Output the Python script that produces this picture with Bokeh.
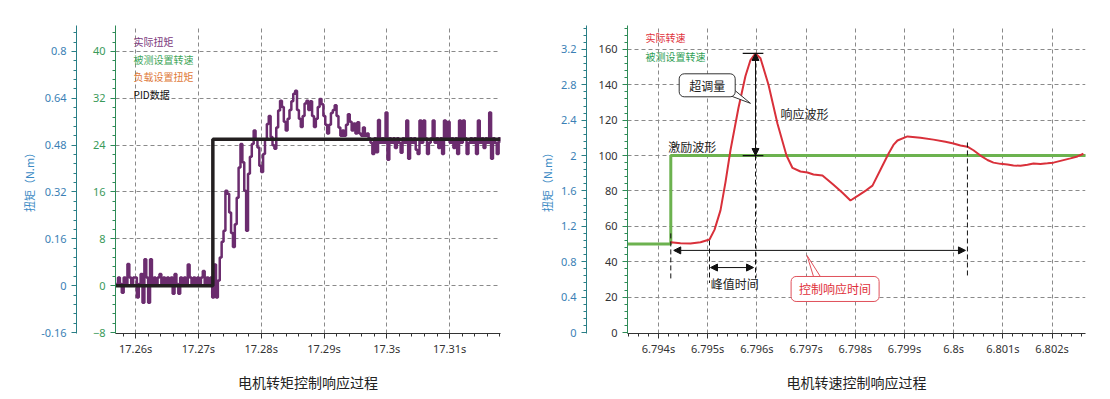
import numpy as np
from bokeh.plotting import figure
from bokeh.models import (Range1d, LinearAxis, SingleIntervalTicker, CustomJSTickFormatter,
                          FixedTicker, Label, Arrow, NormalHead, Title)
from bokeh.layouts import row
from bokeh.embed import file_html
from bokeh.resources import INLINE

# ---------------- data: left chart (torque control) ----------------
T0_LEFT = 17.2569          # first sample time (s)
DT_LEFT = 0.0003           # sample spacing (s)
TORQUE_ACTUAL = [
    0.3, 1.4, 0.3, -1.2, 1.4, 0.3, 3.7, 1.4, 0.3, 1.4,
    1.4, -2.0, 0.3, 2.0, -2.9, 4.5, 1.4, -2.9, 4.5, 0.3,
    1.4, 0.3, 1.4, 2.0, 0.3, 1.4, 0.3, 1.4, 0.3, 1.4,
    -1.4, 2.0, 0.3, -1.4, 1.4, 0.3, 1.4, 0.3, 3.6, 1.4,
    0.3, 1.4, 0.3, 1.4, 0.3, 1.4, 2.5, 0.3, 1.4, 0.3,
    1.4, -2.0, 3.6, -2.0,
    0.9, 4.8, 7.5, 9.4, 16.2, 15.7, 12.5, 9.0, 6.6, 10.5,
    15.0, 20.2, 24.2, 21.1, 16.2, 9.4, 19.1, 22.0, 24.2, 26.5,
    25.0, 23.6, 20.5, 19.4, 22.5, 25.0, 27.6, 29.0, 25.4, 24.0,
    23.4, 27.0, 29.9, 31.6, 30.5, 28.0, 26.5, 28.5, 30.0, 31.5,
    32.8, 33.3, 30.0, 28.5, 27.1, 29.0, 31.1, 31.6, 30.0, 31.5,
    29.0, 27.1, 28.5, 30.5, 31.9, 31.0, 29.0, 27.5, 26.0, 27.5,
    29.5, 30.0, 30.8, 29.0, 27.0, 25.6, 26.5, 25.6, 27.5, 29.3,
    28.0, 26.5, 27.7, 26.0, 27.9, 26.0, 25.6, 27.0, 25.6, 26.0,
    25.2, 24.4, 22.5, 25.2, 22.8, 28.3, 24.4, 25.2, 24.4, 29.6,
    21.5, 25.2, 24.4, 25.2, 23.5, 25.2, 24.4, 22.7, 25.2, 24.4,
    28.2, 21.7, 25.2, 24.4, 25.2, 23.2, 22.5, 28.2, 24.4, 28.2,
    25.2, 22.5, 24.4, 25.2, 28.2, 24.4, 25.2, 23.5, 25.2, 22.5,
    28.2, 25.2, 28.0, 24.4, 25.2, 23.5, 25.2, 22.5, 28.2, 24.4,
    28.2, 25.2, 22.5, 24.4, 25.2, 24.4, 25.2, 22.5, 28.2, 24.4,
    25.2, 23.5, 25.2, 24.4, 29.6, 21.7, 25.2, 24.4, 22.5, 25.2,
    24.4,
]
PID_T = [17.2568, 17.2723, 17.3181]
PID_V = [0, 25, 25]
LEFT_LEGEND = ["实际扭矩", "被测设置转速", "负载设置扭矩", "PID数据"]
LEFT_LEGEND_COLORS = ["#7b3a7d", "#3fa65a", "#e07a3a", "#111111"]

# ---------------- data: right chart (speed control) ----------------
SPEED_T = [6.794244, 6.794447, 6.794650, 6.794854, 6.795037, 6.795138, 6.795260, 6.795362,
           6.795463, 6.795626, 6.795768, 6.795870, 6.795972, 6.796073, 6.796236, 6.796419,
           6.796602, 6.796724, 6.796886, 6.797028, 6.797150, 6.797333, 6.797557, 6.797740,
           6.797902, 6.798065, 6.798228, 6.798350, 6.798512, 6.798675, 6.798776, 6.798858,
           6.799061, 6.799325, 6.799589, 6.799833, 6.799996, 6.800138, 6.800280, 6.800402,
           6.800545, 6.800687, 6.800809, 6.800951, 6.801093, 6.801215, 6.801358, 6.801500,
           6.801622, 6.801764, 6.801907, 6.802028, 6.802171, 6.802374, 6.802516, 6.802638]
SPEED_V = [51.0, 50.5, 50.3, 51.0, 52.6, 58.0, 69.0, 85.0,
           103.0, 127.0, 145.0, 154.0, 157.7, 155.0, 140.0, 118.0,
           100.0, 93.0, 91.0, 90.4, 89.3, 88.7, 83.5, 79.0,
           74.6, 77.5, 80.5, 83.0, 92.0, 101.0, 106.0, 108.5,
           110.8, 110.0, 109.0, 107.8, 106.8, 105.7, 105.0, 103.0,
           100.0, 97.5, 96.0, 95.3, 95.0, 94.4, 94.2, 94.8,
           95.5, 95.2, 95.6, 96.0, 97.0, 98.4, 99.5, 101.0]
SET_T = [6.79337, 6.79425, 6.80269]
SET_V = [50, 100, 100]
RIGHT_LEGEND = ["实际转速", "被测设置转速"]
RIGHT_LEGEND_COLORS = ["#e0323c", "#2f9e55"]

TITLES = ["电机转矩控制响应过程", "电机转速控制响应过程"]
AXIS_TITLE = "扭矩（N.m）"

CJK = "Noto Sans CJK SC"
NUM = "Noto Sans"
GRID_COLOR = "#8a8a8a"
H = 399


def style_axis(ax, line_color, label_color):
    ax.axis_line_color = line_color
    ax.major_tick_line_color = line_color
    ax.minor_tick_line_color = line_color
    ax.major_tick_out = 5
    ax.major_tick_in = 0
    ax.minor_tick_out = 3
    ax.minor_tick_in = 0
    ax.major_label_text_color = label_color
    ax.major_label_text_font = NUM
    ax.major_label_text_font_size = "11px"


def pad_label(ax, size):
    # invisible axis label used only as spacing
    ax.axis_label = "0"
    ax.axis_label_text_alpha = 0
    ax.axis_label_text_font = NUM
    ax.axis_label_text_font_size = size
    ax.axis_label_standoff = 0


def base_fig(width, x0, x1, y0, y1, scale, mb_left, mb_right, mb_bottom):
    p = figure(width=width, height=H, x_range=Range1d(x0, x1), y_range=Range1d(y0, y1),
               output_backend="svg", toolbar_location=None,
               min_border_left=mb_left, min_border_right=mb_right, min_border_top=25,
               min_border_bottom=mb_bottom)
    p.outline_line_color = None
    p.background_fill_color = "white"
    p.border_fill_color = "white"
    p.extra_y_ranges = {"torque": Range1d(y0 * scale, y1 * scale)}
    for g in (p.xgrid[0], p.ygrid[0]):
        g.grid_line_color = GRID_COLOR
        g.grid_line_dash = "4 3"
        g.grid_line_width = 1
    return p


# ====================== left figure ======================
p1 = base_fig(520, 17.2568, 17.3181, -8.17, 44.44, 0.02, 115, 20, 66)
xa = p1.xaxis[0]
xa.ticker = SingleIntervalTicker(interval=0.01, num_minor_ticks=5)
xa.formatter = CustomJSTickFormatter(code="return (+tick.toFixed(3)) + 's';")
style_axis(xa, "#333333", "#333333")
xa.major_label_standoff = 2
pad_label(xa, "3px")
ya = p1.yaxis[0]
ya.ticker = SingleIntervalTicker(interval=8, num_minor_ticks=5)
style_axis(ya, "#2e8b57", "#3a9a5a")
pad_label(ya, "10px")
ya.axis_label_standoff = 2
p1.ygrid[0].ticker = FixedTicker(ticks=[0, 8, 16, 24, 32, 40])
ta = LinearAxis(y_range_name="torque", ticker=SingleIntervalTicker(interval=0.16, num_minor_ticks=5),
                formatter=CustomJSTickFormatter(code="return String(+tick.toFixed(2));"),
                axis_label=AXIS_TITLE)
style_axis(ta, "#2a7f86", "#3b7fb5")
ta.axis_label_text_font = CJK
ta.axis_label_text_font_size = "11px"
ta.axis_label_text_font_style = "normal"
ta.axis_label_text_color = "#3b8ac4"
ta.axis_label_standoff = 1
p1.add_layout(ta, "left")

t_left = T0_LEFT + DT_LEFT * np.arange(len(TORQUE_ACTUAL))
p1.step(t_left, TORQUE_ACTUAL, mode="after", line_color="#6b2c6e", line_width=2.5)
p1.step(PID_T, PID_V, mode="after", line_color="#231f20", line_width=3.5)

for i, (txt, col) in enumerate(zip(LEFT_LEGEND, LEFT_LEGEND_COLORS)):
    p1.add_layout(Label(x=17.25968, y=41.7 - i * 3.0, text=txt, text_color=col,
                        text_font=CJK, text_font_size="10px", text_baseline="middle"))
p1.add_layout(Title(text=TITLES[0], align="center", offset=-57, text_font=CJK,
                    text_font_size="14px", text_font_style="normal", text_color="#222222"),
              "below")

# ====================== right figure ======================
p2 = base_fig(580, 6.79337, 6.80268, -0.565, 173.5, 0.02, 107, 15, 66)
xb = p2.xaxis[0]
xb.ticker = SingleIntervalTicker(interval=0.001, num_minor_ticks=5)
xb.formatter = CustomJSTickFormatter(code="return (+tick.toFixed(4)) + 's';")
style_axis(xb, "#333333", "#333333")
xb.major_label_standoff = 2
pad_label(xb, "3px")
yb = p2.yaxis[0]
yb.ticker = SingleIntervalTicker(interval=20, num_minor_ticks=5)
style_axis(yb, "#2e8b57", "#333333")
pad_label(yb, "6px")
yb.axis_label_standoff = 2
p2.ygrid[0].ticker = FixedTicker(ticks=[20, 40, 60, 80, 100, 120, 140, 160])
tb = LinearAxis(y_range_name="torque", ticker=SingleIntervalTicker(interval=0.4, num_minor_ticks=5),
                formatter=CustomJSTickFormatter(code="return String(+tick.toFixed(1));"),
                axis_label=AXIS_TITLE)
style_axis(tb, "#2a7f86", "#3b7fb5")
tb.axis_label_text_font = CJK
tb.axis_label_text_font_size = "11px"
tb.axis_label_text_font_style = "normal"
tb.axis_label_text_color = "#3b8ac4"
tb.axis_label_standoff = 3
p2.add_layout(tb, "left")

p2.step(SET_T, SET_V, mode="after", line_color="#6cb24f", line_width=3)
p2.line(SPEED_T, SPEED_V, line_color="#d9303a", line_width=2)

ipk = int(np.argmax(SPEED_V))
t_pk, v_pk = SPEED_T[ipk], SPEED_V[ipk]
t_start = SET_T[1]
t_rise = SPEED_T[4]
t_settle = 6.80028
lvl = SET_V[1]

# peak markers
p2.segment(x0=[t_pk - 0.00026, t_pk - 0.00026], y0=[v_pk, lvl],
           x1=[t_pk + 0.00016, t_pk + 0.00016], y1=[v_pk, lvl], line_color="#111111", line_width=1.2)
p2.segment(x0=[t_start, t_rise, t_pk, t_settle], y0=[56, 52, lvl, 107.4],
           x1=[t_start, t_rise, t_pk, t_settle], y1=[30.5, 28, 30.5, 31],
           line_color="#111111", line_width=1, line_dash="5 3")


def dbl_arrow(x0, y0, x1, y1):
    p2.add_layout(Arrow(start=NormalHead(size=7, fill_color="#111111", line_color="#111111"),
                        end=NormalHead(size=7, fill_color="#111111", line_color="#111111"),
                        x_start=x0, y_start=y0, x_end=x1, y_end=y1,
                        line_color="#111111", line_width=1))


dbl_arrow(t_pk, lvl, t_pk, v_pk)
dbl_arrow(t_start + 0.00006, 46.4, t_settle - 0.00004, 46.4)
dbl_arrow(t_rise + 0.00002, 36.7, t_pk - 0.00004, 36.7)

# callout tails
p2.patch([6.79530, 6.79587, 6.79548], [135.5, 129.5, 138.5], fill_color="white",
         line_color="#333333", line_width=1)
p2.patch([6.79718, 6.79702, 6.79735], [29.0, 43.5, 29.0], fill_color="white",
         line_color="#e0505a", line_width=1)

p2.add_layout(Label(x=6.79499, y=139.7, text="超调量", text_font=CJK, text_font_size="12px",
                    text_color="#222222", text_align="center", text_baseline="middle",
                    background_fill_color="white", border_line_color="#333333",
                    border_radius=5, padding=(10, 3)))
p2.add_layout(Label(x=6.79759, y=24.6, text="控制响应时间", text_font=CJK, text_font_size="12px",
                    text_color="#e0303a", text_align="center", text_baseline="middle",
                    background_fill_color="white", border_line_color="#e0505a",
                    border_radius=5, padding=(8, 4)))
for x, y, txt in [(6.79420, 105.1, "激励波形"), (6.79648, 123.8, "响应波形"), (6.79506, 27.7, "峰值时间")]:
    p2.add_layout(Label(x=x, y=y, text=txt, text_font=CJK, text_font_size="12px",
                        text_color="#222222", text_baseline="middle"))

for i, (txt, col) in enumerate(zip(RIGHT_LEGEND, RIGHT_LEGEND_COLORS)):
    p2.add_layout(Label(x=6.793736, y=166.8 - i * 10.8, text=txt, text_color=col,
                        text_font=CJK, text_font_size="10px", text_baseline="middle"))
p2.add_layout(Title(text=TITLES[1], align="center", offset=-26, text_font=CJK,
                    text_font_size="14px", text_font_style="normal", text_color="#222222"),
              "below")

layout = row(p1, p2)
open("out.html", "w").write(file_html(layout, INLINE))
